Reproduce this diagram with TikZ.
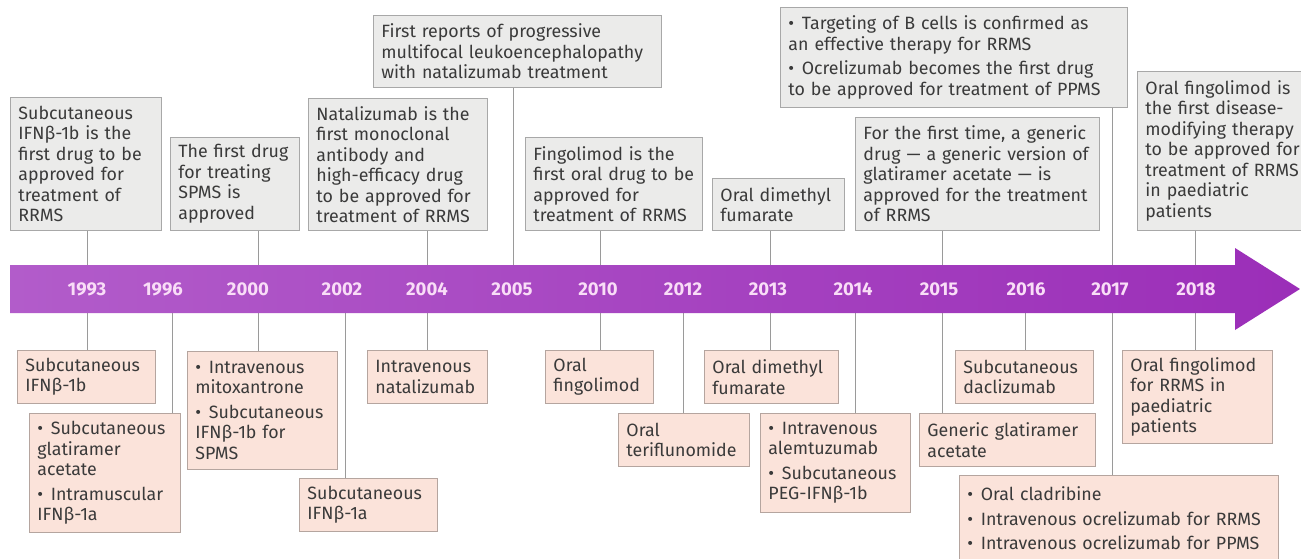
\documentclass[tikz,border=0pt]{standalone}
\usepackage{fontspec}
\setmainfont{Fira Sans}
\definecolor{topfill}{HTML}{EBEBEA}
\definecolor{topdraw}{HTML}{A8A8A8}
\definecolor{botfill}{HTML}{FBE3DA}
\definecolor{botdraw}{HTML}{B5A59F}
\definecolor{conncol}{HTML}{9A9A9A}
\definecolor{txt}{HTML}{3A3A3A}
\definecolor{bandleft}{HTML}{B25CCA}
\definecolor{bandright}{HTML}{9B2EB8}
\definecolor{yearcol}{HTML}{F9DDF7}
\newcommand\bitem[1]{\noindent\hangindent=0.75em\hangafter=1\makebox[0.75em][l]{\textbullet}#1\par}
\newcommand\bgap{\vspace{4pt}}
\begin{document}
\begin{tikzpicture}[x=1pt,y=-1pt,
  box/.style={anchor=north west, inner xsep=8pt, inner ysep=5pt, align=left, text=txt,
    font=\fontsize{17.8}{20.5}\selectfont, line width=0.9pt},
  topbox/.style={box, draw=topdraw, fill=topfill},
  botbox/.style={box, draw=botdraw, fill=botfill},
  year/.style={font=\bfseries\fontsize{18.5}{20}\selectfont, text=yearcol},
  conn/.style={draw=conncol, line width=0.9pt}]
\useasboundingbox (0,0) rectangle (1301,559);
\clip (0,0) rectangle (1301,559);
\fill[white] (0,0) rectangle (1301,559);

% connector anchor points on the band
\foreach \n/\x in {93/87,96/172,00/258,02/345,04/427,05/513,10/600,12/683,13/770,14/855,15/942,16/1025,17/1112,18/1195}{
  \coordinate (c\n) at (\x,265);
  \coordinate (d\n) at (\x,313);
}

% top boxes
\node[topbox, minimum width=151pt, minimum height=133pt, text width=135pt] (t93) at (10,97)
  {Subcutaneous\\IFNβ-1b is the\\first drug to be\\approved for\\treatment of\\RRMS};
\node[topbox, minimum width=129pt, minimum height=93pt, text width=113pt] (t00) at (170,137)
  {The first drug\\for treating\\SPMS is\\approved};
\node[topbox, minimum width=179pt, minimum height=132pt, text width=163pt] (t04) at (308,98)
  {Natalizumab is the\\first monoclonal\\antibody and\\high-efficacy drug\\to be approved for\\treatment of RRMS};
\node[topbox, minimum width=288pt, minimum height=72pt, text width=272pt] (t05) at (373,15)
  {First reports of progressive\\multifocal leukoencephalopathy\\with natalizumab treatment};
\node[topbox, minimum width=177pt, minimum height=93pt, text width=161pt] (t10) at (525,137)
  {Fingolimod is the\\first oral drug to be\\approved for\\treatment of RRMS};
\node[topbox, minimum width=132pt, minimum height=52pt, text width=116pt] (t13) at (712,178)
  {Oral dimethyl\\fumarate};
\node[topbox, minimum width=347pt, minimum height=100pt, text width=331pt] (t17) at (780,7)
  {\bitem{Targeting of B cells is confirmed as\\an effective therapy for RRMS}\bgap\bitem{Ocrelizumab becomes the first drug\\to be approved for treatment of PPMS}};
\node[topbox, minimum width=244pt, minimum height=113pt, text width=228pt] (t15) at (855,117)
  {For the first time, a generic\\drug — a generic version of\\glatiramer acetate — is\\approved for the treatment\\of RRMS};
\node[topbox, minimum width=183pt, minimum height=159pt, text width=167pt] (t18) at (1137,71)
  {Oral fingolimod is\\the first disease-\\modifying therapy\\to be approved for\\treatment of RRMS\\in paediatric\\patients};

% bottom boxes
\node[botbox, minimum width=138pt, minimum height=53pt, text width=122pt] (b93) at (17,350)
  {Subcutaneous\\IFNβ-1b};
\node[botbox, minimum width=151pt, minimum height=119pt, text width=135pt] (b96) at (29,413)
  {\bitem{Subcutaneous\\glatiramer\\acetate}\bgap\bitem{Intramuscular\\IFNβ-1a}};
\node[botbox, minimum width=150pt, minimum height=118pt, text width=134pt] (b00) at (187,351)
  {\bitem{Intravenous\\mitoxantrone}\bgap\bitem{Subcutaneous\\IFNβ-1b for\\SPMS}};
\node[botbox, minimum width=138pt, minimum height=53pt, text width=122pt] (b02) at (299,478)
  {Subcutaneous\\IFNβ-1a};
\node[botbox, minimum width=120pt, minimum height=53pt, text width=104pt] (b04) at (367,350)
  {Intravenous\\natalizumab};
\node[botbox, minimum width=108pt, minimum height=53pt, text width=92pt] (b10) at (545,350)
  {Oral\\fingolimod};
\node[botbox, minimum width=131pt, minimum height=53pt, text width=115pt] (b12) at (618,413)
  {Oral\\teriflunomide};
\node[botbox, minimum width=134pt, minimum height=53pt, text width=118pt] (b13) at (704,350)
  {Oral dimethyl\\fumarate};
\node[botbox, minimum width=150pt, minimum height=99pt, text width=134pt] (b14) at (760,413)
  {\bitem{Intravenous\\alemtuzumab}\bgap\bitem{Subcutaneous\\PEG-IFNβ-1b}};
\node[botbox, minimum width=138pt, minimum height=53pt, text width=122pt] (b16) at (955,350)
  {Subcutaneous\\daclizumab};
\node[botbox, minimum width=176pt, minimum height=53pt, text width=160pt] (b15) at (919,413)
  {Generic glatiramer\\acetate};
\node[botbox, minimum width=150pt, minimum height=93pt, text width=134pt] (b18) at (1122,350)
  {Oral fingolimod\\for RRMS in\\paediatric\\patients};
\node[botbox, minimum width=319pt, minimum height=86pt, text width=303pt] (b17) at (959,475)
  {\bitem{Oral cladribine}\bgap\bitem{Intravenous ocrelizumab for RRMS}\bgap\bitem{Intravenous ocrelizumab for PPMS}};

% connectors
\foreach \n in {93,00,04,05,10,13,15,17,18}{
  \draw[conn] (t\n.south -| c\n) -- (c\n);
}
\foreach \n in {93,96,00,02,04,10,12,13,14,15,16,17,18}{
  \draw[conn] (d\n) -- (b\n.north -| d\n);
}

% band arrow
\shade[left color=bandleft, right color=bandright]
  (10,265) -- (1235,265) -- (1235,248) -- (1300,289) -- (1235,330) -- (1235,313) -- (10,313) -- cycle;

% years
\node[year] (y93) at (87,289) {1993};
\node[year] (y96) at (163,289) {1996};
\node[year] (y00) at (248,289) {2000};
\node[year] (y02) at (342,289) {2002};
\node[year] (y04) at (427,289) {2004};
\node[year] (y05) at (512,289) {2005};
\node[year] (y10) at (598,289) {2010};
\node[year] (y12) at (683,289) {2012};
\node[year] (y13) at (768,289) {2013};
\node[year] (y14) at (853,289) {2014};
\node[year] (y15) at (939,289) {2015};
\node[year] (y16) at (1026,289) {2016};
\node[year] (y17) at (1110,289) {2017};
\node[year] (y18) at (1196,289) {2018};
\end{tikzpicture}
\end{document}
